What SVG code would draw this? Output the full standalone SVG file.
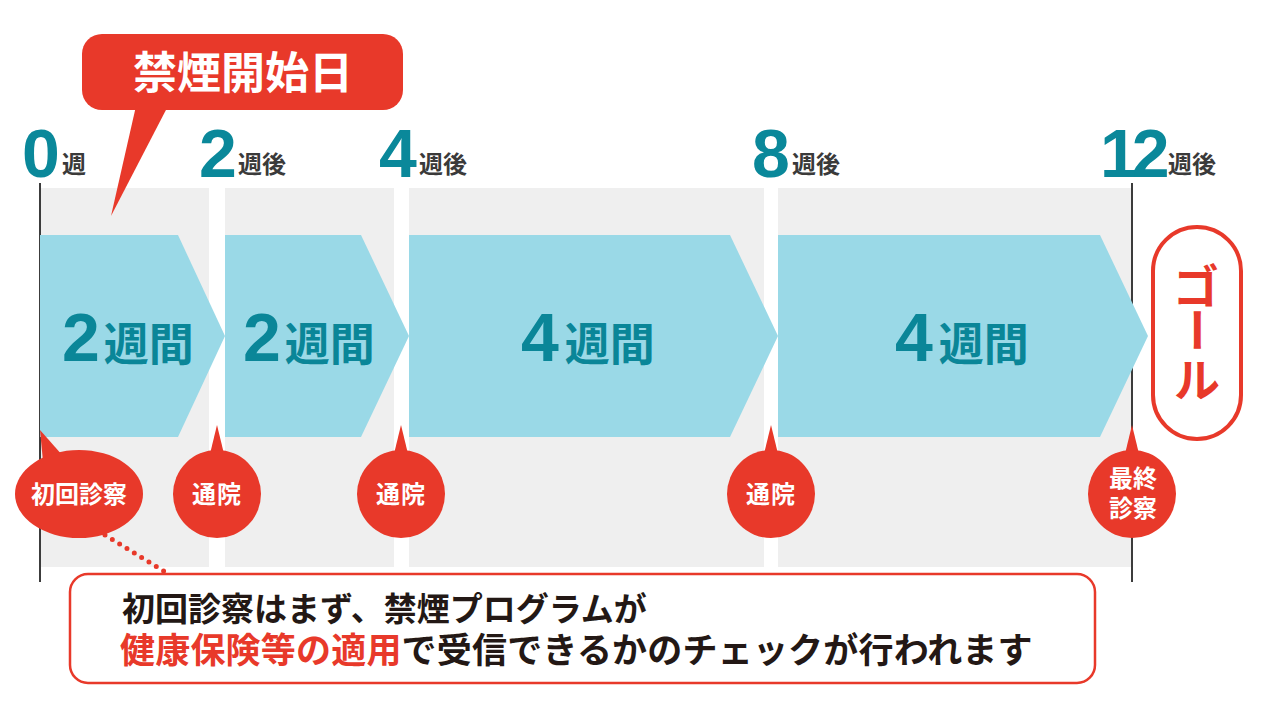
<svg xmlns="http://www.w3.org/2000/svg" width="1280" height="720" viewBox="0 0 1280 720">
<style>
.jp{font-family:"Noto Sans CJK JP","Noto Sans CJK SC",sans-serif;font-weight:700}
.num{font-family:"Liberation Sans","Noto Sans",sans-serif;font-weight:700;fill:#0a889a}
.wk{font-size:24px;fill:#3a3a3a}
.band{fill:#efefef}
.arrow{fill:#9ad9e7}
.alab{fill:#0a8698}
.red{fill:#e8392a}
.wt{fill:#ffffff;font-size:24px;text-anchor:middle}
.axis{stroke:#3c3c3c;stroke-width:2}
</style>
<rect width="1280" height="720" fill="#ffffff"/>
<g id="bands">
<rect class="band" x="40" y="188" width="169" height="379"/>
<rect class="band" x="225" y="188" width="169" height="379"/>
<rect class="band" x="409" y="188" width="355" height="379"/>
<rect class="band" x="778" y="188" width="354" height="379"/>
</g>
<g id="axes">
<line class="axis" x1="40" y1="183" x2="40" y2="582"/>
<line class="axis" x1="1132" y1="183" x2="1132" y2="582"/>
</g>
<g id="week-labels">
<text class="num" x="22" y="177" font-size="68">0</text><text class="jp wk" x="62" y="173">週</text>
<text class="num" x="199" y="177" font-size="68">2</text><text class="jp wk" x="238" y="173">週後</text>
<text class="num" x="379" y="177" font-size="68">4</text><text class="jp wk" x="419" y="173">週後</text>
<text class="num" x="752" y="177" font-size="68">8</text><text class="jp wk" x="792" y="173">週後</text>
<text y="177"><tspan class="num" x="1100" font-size="68" letter-spacing="-6">12</tspan><tspan class="jp wk" x="1168" y="173">週後</tspan></text>
</g>
<g id="arrow1">
<polygon class="arrow" points="40,235 178,235 225,336 178,437 40,437"/>
<text x="62" y="361"><tspan class="num alab" font-size="68">2</tspan><tspan class="jp alab" font-size="45" dx="4">週間</tspan></text>
</g>
<g id="arrow2">
<polygon class="arrow" points="225,235 361,235 409,336 361,437 225,437"/>
<text x="243" y="361"><tspan class="num alab" font-size="68">2</tspan><tspan class="jp alab" font-size="45" dx="4">週間</tspan></text>
</g>
<g id="arrow3">
<polygon class="arrow" points="409,235 730,235 778,336 730,437 409,437"/>
<text x="521" y="361"><tspan class="num alab" font-size="68">4</tspan><tspan class="jp alab" font-size="45" dx="6">週間</tspan></text>
</g>
<g id="arrow4">
<polygon class="arrow" points="778,235 1100,235 1148,336 1100,437 778,437"/>
<text x="895" y="361"><tspan class="num alab" font-size="68">4</tspan><tspan class="jp alab" font-size="45" dx="6">週間</tspan></text>
</g>
<g id="callout-start">
<polygon class="red" points="136,106 168,106 111,216"/>
<rect class="red" x="82" y="34" width="321" height="76" rx="20"/>
<text class="jp" x="243" y="89" font-size="44" fill="#ffffff" text-anchor="middle">禁煙開始日</text>
</g>
<g id="goal">
<rect x="1153" y="227" width="88" height="212" rx="44" fill="#ffffff" stroke="#e8392a" stroke-width="4"/>
<text class="jp" x="1196" y="303" font-size="46" fill="#e8392a" text-anchor="middle">ゴ</text>
<text class="jp" x="1196" y="346" font-size="46" fill="#e8392a" text-anchor="middle" transform="rotate(90 1196 330)">ー</text>
<text class="jp" x="1197" y="397" font-size="46" fill="#e8392a" text-anchor="middle">ル</text>
</g>
<g id="connectors">
<line x1="105" y1="535" x2="170" y2="575" stroke="#e8392a" stroke-width="5" stroke-linecap="round" stroke-dasharray="0 8.6"/>
</g>
<g id="visit-first">
<polygon class="red" points="40,430 63,456 44,472"/>
<ellipse class="red" cx="79" cy="494" rx="64" ry="44"/>
<text class="jp wt" x="79" y="503">初回診察</text>
</g>
<g id="visit-2w">
<polygon class="red" points="217,425 209,458 225,458"/>
<circle class="red" cx="217" cy="494" r="44"/>
<text class="jp wt" x="217" y="503" letter-spacing="1">通院</text>
</g>
<g id="visit-4w">
<polygon class="red" points="401,425 393,458 409,458"/>
<circle class="red" cx="401" cy="494" r="44"/>
<text class="jp wt" x="401" y="503" letter-spacing="1">通院</text>
</g>
<g id="visit-8w">
<polygon class="red" points="771,425 763,458 779,458"/>
<circle class="red" cx="771" cy="494" r="44"/>
<text class="jp wt" x="771" y="503" letter-spacing="1">通院</text>
</g>
<g id="visit-12w">
<polygon class="red" points="1132,425 1124,458 1140,458"/>
<circle class="red" cx="1132" cy="494" r="44"/>
<text class="jp wt" font-size="22"><tspan x="1133" y="487">最終</tspan><tspan x="1133" y="517">診察</tspan></text>
</g>
<g id="note">
<rect x="70" y="574" width="1025" height="109" rx="18" fill="#ffffff" stroke="#e8392a" stroke-width="2.5"/>
<text class="jp" fill="#231815"><tspan x="122" y="621" font-size="33">初回診察はまず、禁煙プログラムが</tspan><tspan x="120" y="663" font-size="35" letter-spacing="0.2"><tspan fill="#e8392a">健康保険等の適用</tspan>で受信できるかのチェックが行われます</tspan></text>
</g>
</svg>
